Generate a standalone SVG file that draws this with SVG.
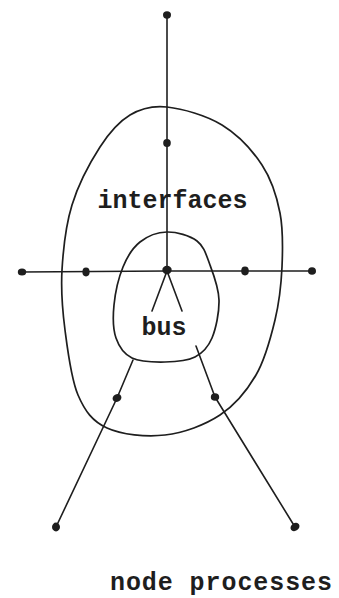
<svg xmlns="http://www.w3.org/2000/svg" width="339" height="598" viewBox="0 0 339 598">
<style>
.ln{fill:none;stroke:#1e1e1e;stroke-width:1.6;stroke-linecap:round;stroke-linejoin:round}
.loop{fill:none;stroke:#1e1e1e;stroke-width:1.7}
.dot{fill:#1e1e1e}
.lbl{font-family:"Liberation Mono","Courier New",monospace;font-size:25px;font-weight:bold;fill:#1e1e1e;text-anchor:middle}
</style>
<rect width="339" height="598" fill="#ffffff"/>
<g id="regions">
<path id="interfaces-loop" class="loop" d="M167,107 C182.3,108.7 206.2,115.3 222,125 C237.8,134.7 252.3,150.3 262,165 C271.7,179.7 276.7,196 280,213 C283.3,230 282.8,249.2 282,267 C281.2,284.8 279.3,302 275,320 C270.7,338 265.2,359.2 256,375 C246.8,390.8 235.2,405 220,415 C204.8,425 183.8,432.8 165,435 C146.2,437.2 121.5,434.7 107,428 C92.5,421.3 85,411.3 78,395 C71,378.7 67.7,350.8 65,330 C62.3,309.2 60.8,290.8 62,270 C63.2,249.2 65.7,225.5 72,205 C78.3,184.5 90.3,162 100,147 C109.7,132 118.8,121.7 130,115 C141.2,108.3 151.7,105.3 167,107 Z"/>
<path id="bus-loop" class="loop" d="M167,232 C176.5,231.8 189.8,235.5 197,241 C204.2,246.5 206.3,255.2 210,265 C213.7,274.8 218.7,287.8 219,300 C219.3,312.2 216,328.5 212,338 C208,347.5 202.8,353 195,357 C187.2,361 175.5,361.8 165,362 C154.5,362.2 140.2,362 132,358 C123.8,354 119,346.8 116,338 C113,329.2 112.8,316.8 114,305 C115.2,293.2 118.7,277.5 123,267 C127.3,256.5 132.7,247.8 140,242 C147.3,236.2 157.5,232.2 167,232 Z"/>
</g>
<g id="connectors">
<path class="ln" d="M167,15 L167,271"/>
<path class="ln" d="M22,272 L167,271 L312,271"/>
<path class="ln" d="M167,271 L152,311"/>
<path class="ln" d="M167,271 L182,311"/>
<path class="ln" d="M133,360 L117,398 L56,527"/>
<path class="ln" d="M196,346 L215,397 L295,527"/>
</g>
<g id="node-top"><ellipse class="dot" cx="167" cy="15" rx="4" ry="3.7"/></g>
<g id="node-top-interface"><ellipse class="dot" cx="167" cy="143" rx="3.8" ry="4"/></g>
<g id="node-left"><ellipse class="dot" cx="22" cy="272" rx="4.2" ry="3.6"/></g>
<g id="node-left-interface"><ellipse class="dot" cx="86" cy="272" rx="3.6" ry="4.4"/></g>
<g id="node-bus"><ellipse class="dot" cx="167" cy="270" rx="4.7" ry="4.2"/></g>
<g id="node-right-interface"><ellipse class="dot" cx="245" cy="271" rx="3.8" ry="4.4"/></g>
<g id="node-right"><ellipse class="dot" cx="312" cy="271" rx="4" ry="3.8"/></g>
<g id="node-lower-left-interface"><ellipse class="dot" cx="117" cy="398" rx="4.6" ry="3.8" transform="rotate(-30 117 398)"/></g>
<g id="node-lower-right-interface"><ellipse class="dot" cx="215" cy="397" rx="4.2" ry="3.8"/></g>
<g id="node-lower-left"><ellipse class="dot" cx="56" cy="527" rx="4" ry="4.4"/></g>
<g id="node-lower-right"><ellipse class="dot" cx="295" cy="527" rx="4.8" ry="3.8" transform="rotate(-35 295 527)"/></g>
<g id="labels">
<text class="lbl" x="172.5" y="208">interfaces</text>
<text class="lbl" x="164" y="335">bus</text>
<text class="lbl" x="221" y="590" textLength="222" lengthAdjust="spacing">node processes</text>
</g>
</svg>
